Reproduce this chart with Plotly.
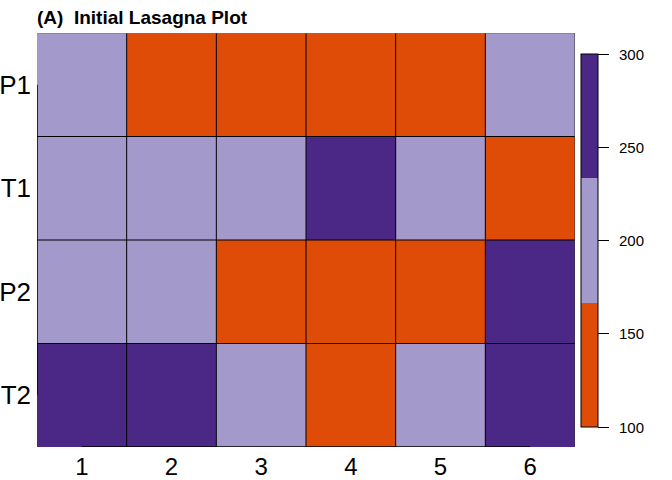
import plotly.graph_objects as go

# ---- data ----
rows = ["P1", "T1", "P2", "T2"]
cols = ["1", "2", "3", "4", "5", "6"]
values = [
    [200, 140, 140, 140, 140, 200],   # P1
    [200, 200, 200, 270, 200, 140],   # T1
    [200, 200, 140, 140, 140, 270],   # P2
    [270, 270, 200, 140, 200, 270],   # T2
]
cbar_ticks = [100, 150, 200, 250, 300]
zmin, zmax = 100, 300

ORANGE = "#DF4C08"
LIGHT = "#A399CB"
DARK = "#4C2886"
colorscale = [[0, ORANGE], [1/3, ORANGE], [1/3, LIGHT], [2/3, LIGHT], [2/3, DARK], [1, DARK]]

nx, ny = len(cols), len(rows)
xs = list(range(nx))
ys = list(range(ny))

FONT = "Liberation Sans, Arial"

# plot area in pixels
PL, PR, PT, PB = 37, 575, 33, 447
PW, PH = PR - PL, PB - PT
# colorbar geometry in pixels
CB_L, CB_W, CB_T, CB_B = 581, 17, 54, 427
cb_y0 = (PB - CB_B) / PH
cb_y1 = (PB - CB_T) / PH

fig = go.Figure(go.Heatmap(
    z=values, x=xs, y=ys, zmin=zmin, zmax=zmax, colorscale=colorscale,
    hoverongaps=False,
    colorbar=dict(
        thickness=CB_W, thicknessmode="pixels",
        len=CB_B - CB_T, lenmode="pixels",
        x=(CB_L - PL) / PW, xanchor="left", xpad=0,
        y=(cb_y0 + cb_y1) / 2, yanchor="middle", ypad=0,
        outlinewidth=1, outlinecolor="black",
        tickvals=cbar_ticks, ticks="outside", ticklen=11, tickcolor="black",
        showticklabels=False,
    ),
))

# colorbar tick labels as annotations, placed by value along the bar
annotations = []
for v in cbar_ticks:
    annotations.append(dict(
        xref="paper", yref="paper", x=(617 - PL) / PW, xanchor="left",
        y=cb_y0 + (v - zmin) / (zmax - zmin) * (cb_y1 - cb_y0), yanchor="middle",
        text=str(v), showarrow=False,
        font=dict(family=FONT, size=15, color="black"),
    ))

shapes = []
# interior cell borders
for i in range(1, nx):
    shapes.append(dict(type="line", xref="x", yref="y", x0=i - 0.5, x1=i - 0.5,
                       y0=-0.5, y1=ny - 0.5, line=dict(color="black", width=1)))
for j in range(1, ny):
    shapes.append(dict(type="line", xref="x", yref="y", x0=-0.5, x1=nx - 0.5,
                       y0=j - 0.5, y1=j - 0.5, line=dict(color="black", width=1)))
# top border (thin grey)
shapes.append(dict(type="line", xref="x", yref="y", x0=-0.5, x1=nx - 0.5,
                   y0=-0.5, y1=-0.5, line=dict(color="#777777", width=1)))
# right border
shapes.append(dict(type="line", xref="x", yref="y", x0=nx - 0.5, x1=nx - 0.5,
                   y0=-0.5, y1=ny - 0.5, line=dict(color="#333333", width=1)))
# R-style axis lines (first tick to last tick)
shapes.append(dict(type="line", xref="x", yref="y", x0=0, x1=nx - 1,
                   y0=ny - 0.5, y1=ny - 0.5, line=dict(color="black", width=1.5)))
shapes.append(dict(type="line", xref="x", yref="y", x0=-0.5, x1=-0.5,
                   y0=0, y1=ny - 1, line=dict(color="black", width=1.5)))

fig.update_layout(
    width=672, height=480,
    margin=dict(l=PL, r=672 - PR, t=PT, b=480 - PB, pad=0, autoexpand=False),
    paper_bgcolor="white", plot_bgcolor="white",
    shapes=shapes, annotations=annotations,
    title=dict(text="<b>(A)&nbsp; Initial Lasagna Plot</b>", x=PL / 672, xanchor="left",
               xref="container", y=1 - 17 / 480, yanchor="middle", yref="container",
               font=dict(family=FONT, size=19, color="black")),
    xaxis=dict(tickvals=xs, ticktext=cols, range=[-0.5, nx - 0.5], showgrid=False,
               zeroline=False, showline=False, ticks="", ticklabelstandoff=3,
               automargin=False,
               tickfont=dict(family=FONT, size=24, color="black")),
    yaxis=dict(tickvals=ys, ticktext=rows, range=[ny - 0.5, -0.5], showgrid=False,
               zeroline=False, showline=False, ticks="", ticklabelstandoff=5,
               automargin=False,
               tickfont=dict(family=FONT, size=26, color="black")),
)

fig.write_html("out.html", config={"displayModeBar": False},
               post_script="document.body.style.margin='0px';document.body.style.padding='0px';")
